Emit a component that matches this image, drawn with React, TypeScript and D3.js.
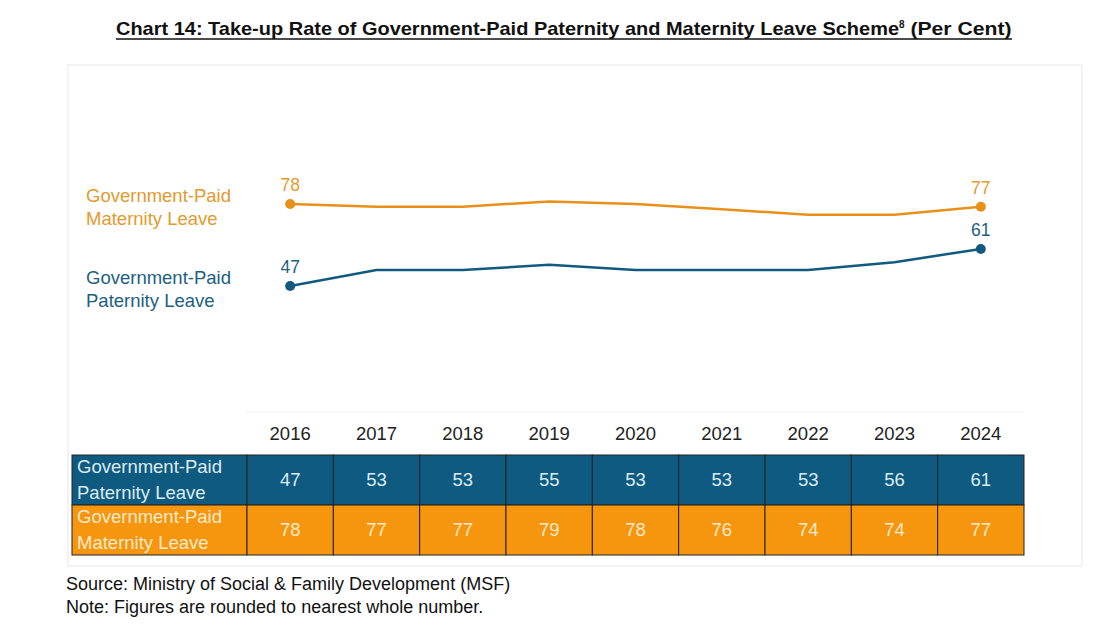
import React, { useEffect, useRef } from "react";
import * as d3 from "d3";

const years = ["2016", "2017", "2018", "2019", "2020", "2021", "2022", "2023", "2024"];
const paternity = [47, 53, 53, 55, 53, 53, 53, 56, 61];
const maternity = [78, 77, 77, 79, 78, 76, 74, 74, 77];

const BLUE = "#0f5a80";
const ORANGE = "#f5960e";
const FONT = "'Liberation Sans', Arial, sans-serif";

const App = () => {
    const ref = useRef<SVGSVGElement>(null);

    useEffect(() => {
        const svg = d3.select(ref.current);
        svg.selectAll("*").remove();

        const W = 1119;
        const H = 643;
        svg.append("rect").attr("width", W).attr("height", H).attr("fill", "#fff");

        // title (condensed bold, underlined)
        const title = svg.append("text")
            .attr("x", 116).attr("y", 35)
            .style("font-family", FONT).style("font-size", "19px").style("font-weight", "bold")
            .attr("fill", "#111");
        title.append("tspan").attr("textLength", 783).attr("lengthAdjust", "spacingAndGlyphs")
            .text("Chart 14: Take-up Rate of Government-Paid Paternity and Maternity Leave Scheme");
        title.append("tspan").attr("dy", -7).style("font-size", "10px").text("8");
        title.append("tspan").attr("dy", 7).attr("textLength", 107).attr("lengthAdjust", "spacingAndGlyphs").text(" (Per Cent)");
        svg.append("line").attr("x1", 116).attr("x2", 1012).attr("y1", 39).attr("y2", 39)
            .attr("stroke", "#111").attr("stroke-width", 1.6);

        // panel
        svg.append("rect").attr("x", 68).attr("y", 65).attr("width", 1014).attr("height", 501)
            .attr("fill", "none").attr("stroke", "#e8e8e8");

        const x = d3.scaleBand().domain(years).range([247, 1024]);
        const cx = (d: string) => (x(d) as number) + x.bandwidth() / 2;
        const y = d3.scaleLinear().domain([0, 100]).range([410, 146]);

        const series = [
            { name: ["Government-Paid", "Maternity Leave"], vals: maternity, color: "#e8901a", text: "#e39a2e", ly: 196 },
            { name: ["Government-Paid", "Paternity Leave"], vals: paternity, color: "#11597e", text: "#1d5f80", ly: 278 },
        ];

        const line = d3.line<number>().x((_, i) => cx(years[i])).y((v) => y(v));

        series.forEach((s) => {
            svg.append("path").datum(s.vals).attr("d", line).attr("fill", "none")
                .attr("stroke", s.color).attr("stroke-width", 2.5);
            const ends = [0, s.vals.length - 1];
            ends.forEach((i) => {
                svg.append("circle").attr("cx", cx(years[i])).attr("cy", y(s.vals[i])).attr("r", 5)
                    .attr("fill", s.color);
                svg.append("text").attr("x", cx(years[i])).attr("y", y(s.vals[i]) - 13)
                    .attr("text-anchor", "middle").style("font-family", FONT).style("font-size", "17.5px")
                    .attr("fill", s.text).text(s.vals[i]);
            });
            s.name.forEach((t, j) => {
                svg.append("text").attr("x", 86).attr("y", s.ly + 6 + j * 23)
                    .style("font-family", FONT).style("font-size", "18.5px").attr("fill", s.text).text(t);
            });
        });

        // header
        svg.append("line").attr("x1", 247).attr("x2", 1024).attr("y1", 412).attr("y2", 412)
            .attr("stroke", "#eee");
        svg.selectAll(".yr").data(years).enter().append("text")
            .attr("x", (d) => cx(d)).attr("y", 440).attr("text-anchor", "middle")
            .style("font-family", FONT).style("font-size", "18.5px").attr("fill", "#222").text((d) => d);

        // table
        const rows = [
            { name: ["Government-Paid", "Paternity Leave"], vals: paternity, fill: BLUE, text: "#dcecf4", top: 455 },
            { name: ["Government-Paid", "Maternity Leave"], vals: maternity, fill: ORANGE, text: "#fde9cc", top: 505 },
        ];
        const rh = 50;
        rows.forEach((r) => {
            svg.append("rect").attr("x", 72).attr("y", r.top).attr("width", 175).attr("height", rh)
                .attr("fill", r.fill).attr("stroke", "#222").attr("stroke-width", 1);
            r.name.forEach((t, j) => {
                svg.append("text").attr("x", 77).attr("y", r.top + 18 + j * 26)
                    .style("font-family", FONT).style("font-size", "18.5px").attr("fill", r.text).text(t);
            });
            years.forEach((yr, i) => {
                svg.append("rect").attr("x", x(yr) as number).attr("y", r.top).attr("width", x.bandwidth())
                    .attr("height", rh).attr("fill", r.fill).attr("stroke", "#222").attr("stroke-width", 1);
                svg.append("text").attr("x", cx(yr)).attr("y", r.top + rh / 2 + 6).attr("text-anchor", "middle")
                    .style("font-family", FONT).style("font-size", "18.5px").attr("fill", r.text).text(r.vals[i]);
            });
        });

        // notes
        const notes = ["Source: Ministry of Social & Family Development (MSF)", "Note: Figures are rounded to nearest whole number."];
        notes.forEach((t, i) => {
            svg.append("text").attr("x", 66).attr("y", 590 + i * 23)
                .style("font-family", FONT).style("font-size", "18px").attr("fill", "#111").text(t);
        });
    }, []);

    return <svg ref={ref} width={1119} height={643} style={{ position: "absolute", left: 0, top: 0 }} />;
};

export default App;
